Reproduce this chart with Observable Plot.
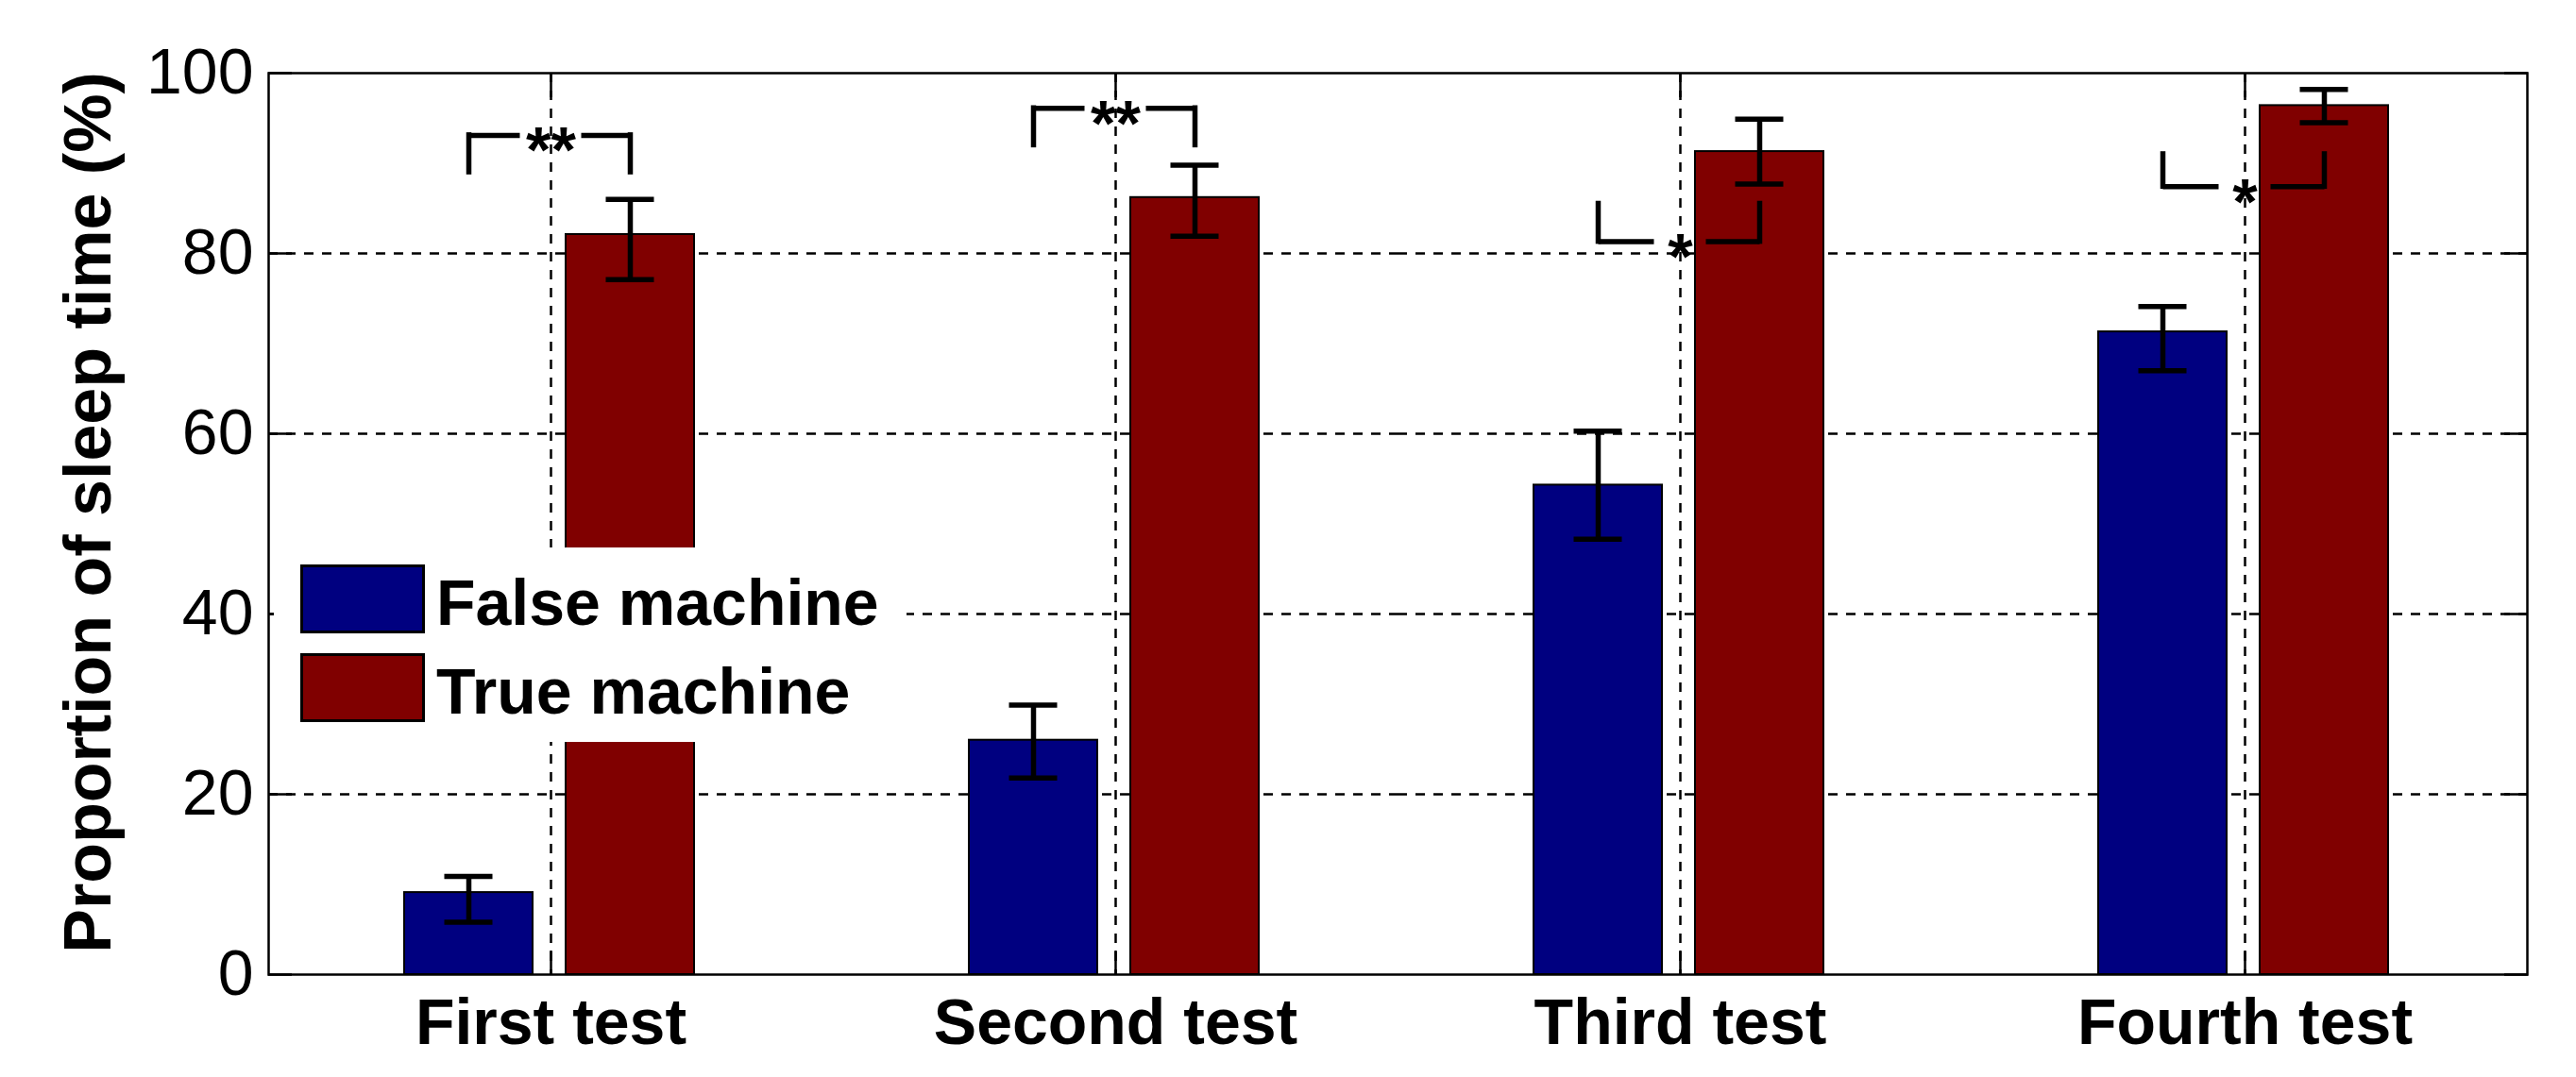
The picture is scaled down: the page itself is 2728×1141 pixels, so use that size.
<!DOCTYPE html>
<html>
<head>
<meta charset="utf-8">
<script src="https://cdn.jsdelivr.net/npm/d3@7"></script>
<script src="https://cdn.jsdelivr.net/npm/@observablehq/plot@0.6"></script>
<style>
  html, body { margin: 0; padding: 0; background: #fff; }
  #wrap { position: relative; width: 2728px; height: 1141px; font-family: "Liberation Sans", Arial, sans-serif; }
  #wrap svg { position: absolute; left: 0; top: 0; }
  #legend { position: absolute; left: 290px; top: 580px; width: 670px; height: 206px; background: #fff; }
  #legend .sw { position: absolute; left: 28px; width: 132px; height: 73px; box-sizing: border-box; border: 3px solid #000; }
  #legend .lb { position: absolute; left: 172px; font-size: 68px; line-height: 68px; font-weight: bold; color: #000; white-space: nowrap; }
</style>
</head>
<body>
<div id="wrap"></div>
<script>
// ---- data ----
const tests = ["First test", "Second test", "Third test", "Fourth test"];
const machines = ["False machine", "True machine"];
const colors = ["#000080", "#800000"];

const falseMean = [9.1, 26.0, 54.3, 71.3];
const falseLow  = [5.8, 21.8, 48.3, 67.0];
const falseHigh = [10.9, 29.9, 60.3, 74.1];

const trueMean = [82.1, 86.2, 91.3, 96.4];
const trueLow  = [77.1, 81.9, 87.7, 94.5];
const trueHigh = [86.0, 89.8, 94.9, 98.2];

const sigLabels = ["**", "**", "*", "*"];
const sigLine   = [93.1, 96.1, 81.3, 87.4];
const sigLeg    = [89.0, 92.0, 85.5, 91.0];

const yTicks = [0, 20, 40, 60, 80, 100];
const yLabel = "Proportion of sleep time (%)";

// ---- tables built from the arrays ----
const rows = tests.flatMap((t, i) => [
  {test: t, machine: machines[0], mean: falseMean[i], low: falseLow[i], high: falseHigh[i]},
  {test: t, machine: machines[1], mean: trueMean[i], low: trueLow[i], high: trueHigh[i]}
]);
const brackets = tests.map((t, i) => ({test: t, label: sigLabels[i], line: sigLine[i], leg: sigLeg[i]}));
const legs = brackets.flatMap(b => machines.map(m => ({test: b.test, machine: m, line: b.line, leg: b.leg})));

const dashGrid = "10,9";
const lw = 5.5;

const chart = Plot.plot({
  width: 2728,
  height: 1141,
  marginLeft: 283,
  marginRight: 51,
  marginTop: 77,
  marginBottom: 109,
  style: {fontFamily: "'Liberation Sans', Arial, sans-serif", background: "white", color: "black", overflow: "visible"},
  fx: {domain: tests, padding: 0, label: null},
  x: {domain: machines, paddingInner: 0.2035, paddingOuter: 0.8416, align: 0.494, axis: null},
  y: {domain: [0, 100], label: null},
  color: {domain: machines, range: colors},
  marks: [
    Plot.gridY(yTicks.filter(v => v > 0 && v < 100), {stroke: "black", strokeOpacity: 1, strokeWidth: 2.5, strokeDasharray: dashGrid}),
    Plot.gridFx({stroke: "black", strokeOpacity: 1, strokeWidth: 2.5, strokeDasharray: dashGrid}),
    Plot.barY(rows, {fx: "test", x: "machine", y: "mean", fill: "machine", stroke: "black", strokeWidth: 2}),
    Plot.ruleX(rows, {fx: "test", x: "machine", y1: "low", y2: "high", stroke: "black", strokeWidth: lw}),
    Plot.tickY(rows, {fx: "test", x: "machine", y: "low", stroke: "black", strokeWidth: lw, inset: 42.5}),
    Plot.tickY(rows, {fx: "test", x: "machine", y: "high", stroke: "black", strokeWidth: lw, inset: 42.5}),
    Plot.link(brackets.filter(d => d.label === "**"), {fx: "test", x1: () => machines[0], x2: () => machines[1], y1: "line", y2: "line", stroke: "black", strokeWidth: lw, strokeDasharray: "54,65,60"}),
    Plot.link(brackets.filter(d => d.label === "*"), {fx: "test", x1: () => machines[0], x2: () => machines[1], y1: "line", y2: "line", stroke: "black", strokeWidth: lw, strokeDasharray: "59,55,65"}),
    Plot.ruleX(legs, {fx: "test", x: "machine", y1: "line", y2: "leg", stroke: "black", strokeWidth: lw, strokeLinecap: "square"}),
    Plot.text(brackets, {fx: "test", y: "line", text: "label", fontSize: 68, fontWeight: "bold", fill: "black", dy: 17}),
    Plot.axisY(yTicks, {anchor: "left", tickSize: 0, tickPadding: 16, fontSize: 68, label: null}),
    Plot.axisY(yTicks, {anchor: "left", tickSize: 25, insetLeft: 25, tickFormat: () => "", strokeWidth: 2.5, label: null}),
    Plot.axisY(yTicks, {anchor: "right", tickSize: 25, insetRight: 25, tickFormat: () => "", strokeWidth: 2.5, label: null}),
    Plot.axisFx({anchor: "bottom", tickSize: 0, tickPadding: 25, fontSize: 68, fontWeight: "bold", label: null}),
    Plot.axisFx({anchor: "top", tickSize: 25, insetTop: 25, tickFormat: () => "", strokeWidth: 2.5, label: null}),
    Plot.axisFx({anchor: "bottom", tickSize: 25, insetBottom: 25, tickFormat: () => "", strokeWidth: 2.5, label: null}),
    Plot.frame({facet: "super", stroke: "black", strokeWidth: 2.5}),
    Plot.text([yLabel], {fx: () => tests[0], text: d => d, frameAnchor: "left", textAnchor: "middle", lineAnchor: "middle", rotate: -90, dx: -190, dy: -12, fontSize: 70, fontWeight: "bold", fill: "black"})
  ]
});

const wrap = document.getElementById("wrap");
wrap.appendChild(chart);

// legend (drawn over the plot area, as in the reference)
const legend = document.createElement("div");
legend.id = "legend";
machines.forEach((m, i) => {
  const sw = document.createElement("div");
  sw.className = "sw";
  sw.style.top = (18 + i * 94) + "px";
  sw.style.background = colors[i];
  legend.appendChild(sw);
  const lb = document.createElement("div");
  lb.className = "lb";
  lb.style.top = (23.5 + i * 94) + "px";
  lb.textContent = m;
  legend.appendChild(lb);
});
wrap.appendChild(legend);
</script>
</body>
</html>
